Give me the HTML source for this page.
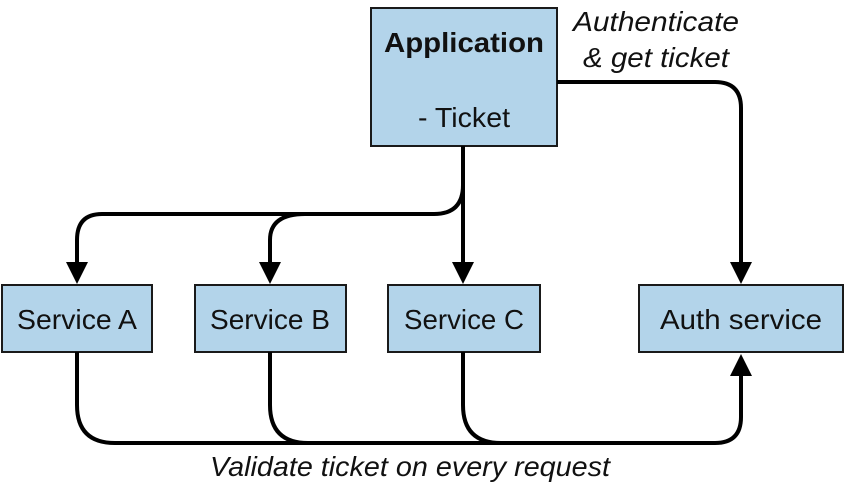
<!DOCTYPE html>
<html><head><style>html,body{margin:0;padding:0;background:#fff}</style></head>
<body>
<svg width="845" height="486" viewBox="0 0 845 486" xmlns="http://www.w3.org/2000/svg" font-family="Liberation Sans, sans-serif">
<g fill="#b3d4ea" stroke="#1a1a1a" stroke-width="2">
<rect x="371" y="8" width="186" height="138"/>
<rect x="2" y="285" width="150" height="67"/>
<rect x="195" y="285" width="151" height="67"/>
<rect x="388" y="285" width="152" height="67"/>
<rect x="639" y="285" width="204" height="67"/>
</g>
<g fill="none" stroke="#000" stroke-width="4">
<path d="M463 146 V262"/>
<path d="M463 150 V185 Q463 214 434 214 H102 Q77 214 77 240 V262"/>
<path d="M305 214 Q270 214 270 240 V262"/>
<path d="M557 82 H715 Q741 82 741 108 V262"/>
<path d="M77 352 V405 Q77 443 115 443 H715 Q741 443 741 417 V376"/>
<path d="M270 352 V405 Q270 443 308 443"/>
<path d="M463 352 V405 Q463 443 501 443"/>
</g>
<g fill="#000">
<polygon points="66,262 88,262 77,284"/>
<polygon points="259,262 281,262 270,284"/>
<polygon points="452,262 474,262 463,284"/>
<polygon points="730,262 752,262 741,284"/>
<polygon points="730,376 752,376 741,354"/>
</g>
<g font-size="28" text-anchor="middle" fill="#111">
<text x="464" y="52" font-weight="bold" textLength="160" lengthAdjust="spacingAndGlyphs">Application</text>
<text x="464" y="127" textLength="92" lengthAdjust="spacingAndGlyphs">- Ticket</text>
<text x="77" y="329" textLength="120" lengthAdjust="spacingAndGlyphs">Service A</text>
<text x="270" y="329" textLength="120" lengthAdjust="spacingAndGlyphs">Service B</text>
<text x="464" y="329" textLength="120" lengthAdjust="spacingAndGlyphs">Service C</text>
<text x="741" y="329" textLength="162" lengthAdjust="spacingAndGlyphs">Auth service</text>
<g font-style="italic">
<text x="656" y="31" textLength="166" lengthAdjust="spacingAndGlyphs">Authenticate</text>
<text x="656" y="67" textLength="146" lengthAdjust="spacingAndGlyphs">&amp; get ticket</text>
<text x="410" y="476" textLength="400" lengthAdjust="spacingAndGlyphs">Validate ticket on every request</text>
</g>
</g>
</svg>
</body></html>
